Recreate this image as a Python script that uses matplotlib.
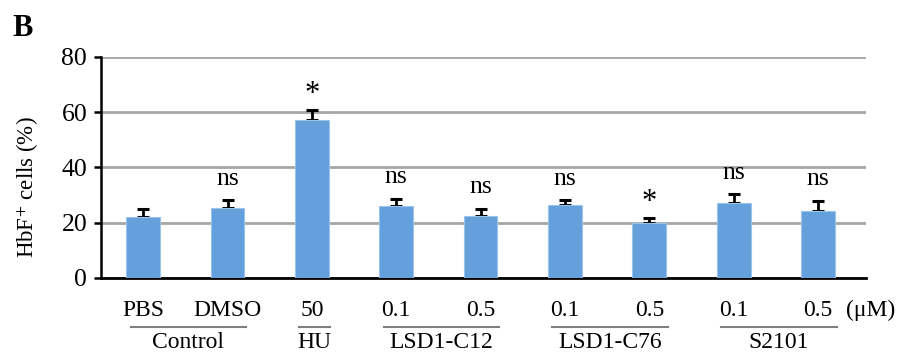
import matplotlib.pyplot as plt
import numpy as np
from matplotlib.lines import Line2D

plt.rcParams['font.family'] = ['Liberation Serif', 'DejaVu Serif']
plt.rcParams['mathtext.fontset'] = 'stix'

# data
conc_labels = ['PBS', 'DMSO', '50', '0.1', '0.5', '0.1', '0.5', '0.1', '0.5']
values = [22.0, 25.3, 57.2, 25.9, 22.4, 26.6, 19.9, 27.3, 24.3]
errors = [2.8, 2.8, 3.7, 2.8, 2.6, 1.5, 1.7, 3.1, 3.6]
marks = ['', 'ns', '*', 'ns', 'ns', 'ns', '*', 'ns', 'ns']
groups = ['Control', 'HU', 'LSD1-C12', 'LSD1-C76', 'S2101']
group_span = [(0, 1), (2, 2), (3, 4), (5, 6), (7, 8)]

bar_color = '#64A0DC'

fig = plt.figure(figsize=(9.06, 3.58), dpi=100)
ax = fig.add_axes([0.1115, 0.2235, 0.8445, 0.6173])

x = np.arange(len(values))
# error bars behind the bars so only the upper half shows
ax.errorbar(x, values, yerr=[np.zeros(len(errors)), errors], fmt='none',
            ecolor='black', elinewidth=2, capsize=4.3, capthick=2.2, zorder=2)
ax.bar(x, values, width=0.4, color=bar_color, edgecolor='#9cc3ea', linewidth=0.8, zorder=3)

# significance marks
for xi, v, e, m in zip(x, values, errors, marks):
    if not m:
        continue
    top = v + e
    if m == '*':
        ax.text(xi, top + 0.3, m, ha='center', va='bottom', fontsize=22)
    else:
        ax.text(xi, top + 5.6, m, ha='center', va='baseline', fontsize=18.5)

ax.set_xlim(-0.5, 8.57)
ax.set_ylim(0, 80)
ax.set_yticks([0, 20, 40, 60, 80])
ax.tick_params(axis='y', labelsize=18.5, direction='out', length=5, width=1.8, pad=5)
ax.set_xticks([])
ax.yaxis.grid(True, color='#a6a6a6', linewidth=2, zorder=0)
ax.set_axisbelow(True)
for s in ['top', 'right']:
    ax.spines[s].set_visible(False)
ax.spines['left'].set_linewidth(1.8)
ax.spines['bottom'].set_linewidth(2)
fig.text(0.031, 0.478, 'HbF$^{+}$ cells (%)', rotation=90, fontsize=16.5,
         ha='center', va='center')

# category labels below axis
tr = ax.get_xaxis_transform()
for xi, lab in zip(x, conc_labels):
    ax.text(xi, -0.145, lab, transform=tr, ha='center', va='center', fontsize=17, clip_on=False)
ax.text(8.33, -0.145, '(μM)', transform=tr, ha='left', va='center', fontsize=17, clip_on=False)

for name, (a, b) in zip(groups, group_span):
    ax.add_line(Line2D([a - 0.15, b + 0.22], [-0.222, -0.222], transform=tr,
                       color='#7f7f7f', linewidth=1.5, clip_on=False))
    ax.text((a + b) / 2 + 0.03, -0.29, name, transform=tr, ha='center', va='center',
            fontsize=17, clip_on=False)

fig.text(0.014, 0.92, 'B', fontsize=22, fontweight='bold', ha='left', va='center')

fig.savefig('out.png', dpi=100)
